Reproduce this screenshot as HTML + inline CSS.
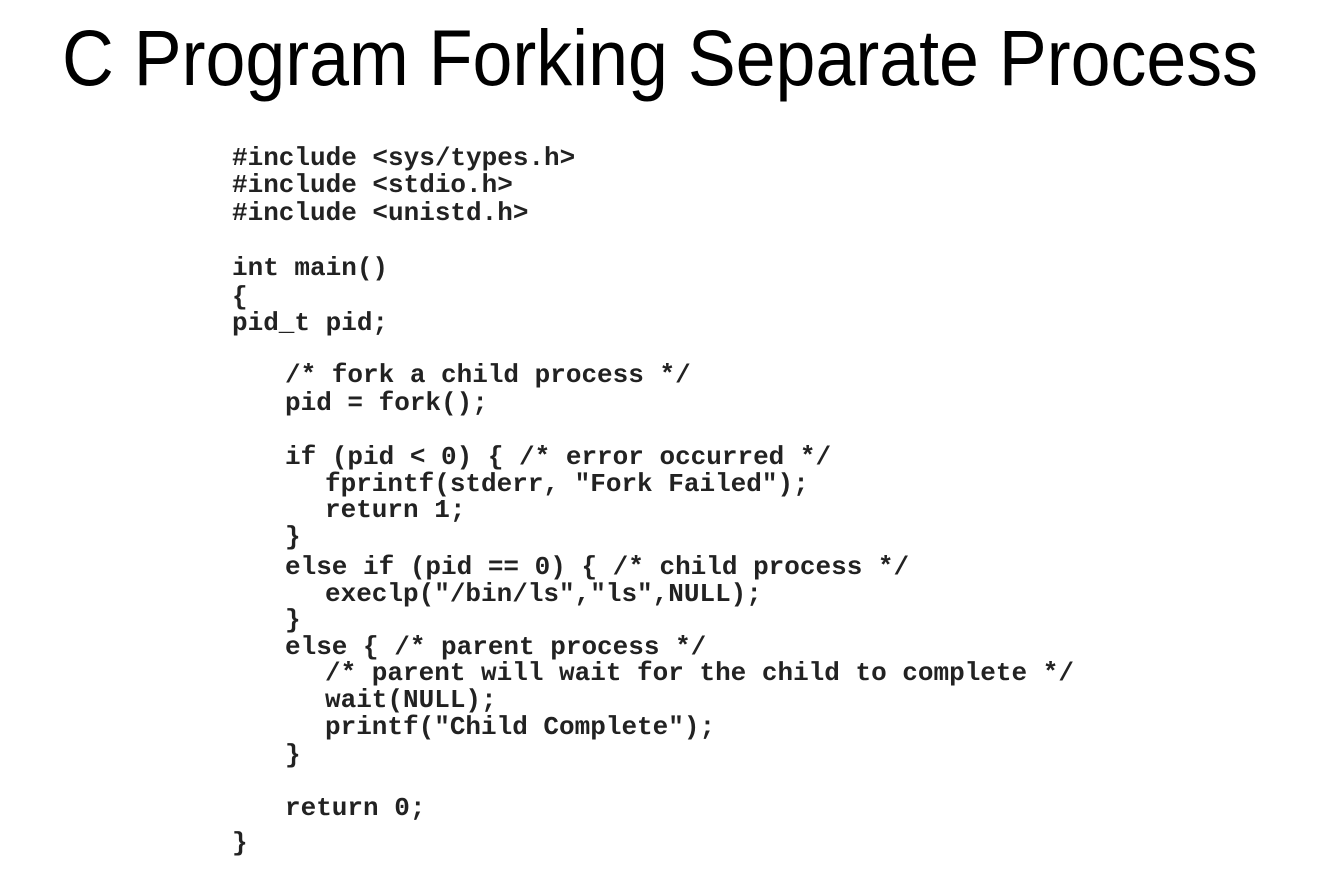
<!DOCTYPE html>
<html><head><meta charset="utf-8"><style>
body{margin:0;width:1325px;height:869px;background:#fff;position:relative;overflow:hidden}
.l{position:absolute;font-family:"Liberation Mono",monospace;font-weight:bold;font-size:26px;line-height:26px;height:26px;white-space:pre;color:#222}
</style></head><body>
<svg width="1325" height="120" style="position:absolute;left:0;top:0">
<text x="62" y="85" font-family="Liberation Sans, sans-serif" font-size="79" textLength="1196" lengthAdjust="spacingAndGlyphs" fill="#000">C Program Forking Separate Process</text>
</svg>
<div class="l" style="left:232px;top:145px">#include &lt;sys/types.h&gt;</div>
<div class="l" style="left:232px;top:172px">#include &lt;stdio.h&gt;</div>
<div class="l" style="left:232px;top:200px">#include &lt;unistd.h&gt;</div>
<div class="l" style="left:232px;top:255px">int main()</div>
<div class="l" style="left:232px;top:284px">{</div>
<div class="l" style="left:232px;top:310px">pid_t pid;</div>
<div class="l" style="left:285px;top:362px">/* fork a child process */</div>
<div class="l" style="left:285px;top:390px">pid = fork();</div>
<div class="l" style="left:285px;top:444px">if (pid &lt; 0) { /* error occurred */</div>
<div class="l" style="left:325px;top:471px">fprintf(stderr, "Fork Failed");</div>
<div class="l" style="left:325px;top:497px">return 1;</div>
<div class="l" style="left:285px;top:524px">}</div>
<div class="l" style="left:285px;top:554px">else if (pid == 0) { /* child process */</div>
<div class="l" style="left:325px;top:581px">execlp("/bin/ls","ls",NULL);</div>
<div class="l" style="left:285px;top:607px">}</div>
<div class="l" style="left:285px;top:634px">else { /* parent process */</div>
<div class="l" style="left:325px;top:660px">/* parent will wait for the child to complete */</div>
<div class="l" style="left:325px;top:687px">wait(NULL);</div>
<div class="l" style="left:325px;top:714px">printf("Child Complete");</div>
<div class="l" style="left:285px;top:742px">}</div>
<div class="l" style="left:285px;top:795px">return 0;</div>
<div class="l" style="left:232px;top:830px">}</div>
</body></html>
